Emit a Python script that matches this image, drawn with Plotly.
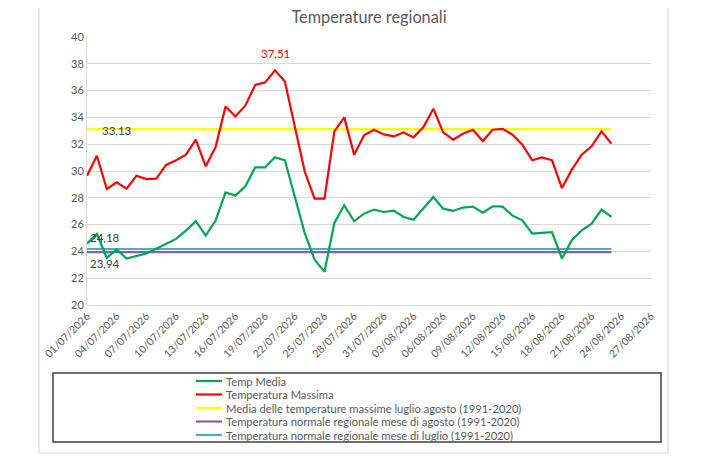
import pandas as pd
import plotly.graph_objects as go

# colors
green = '#00A550'
red = '#FF0000'
yellow = '#FFFF00'
purple = '#8064A2'
teal = '#4BACC6'
grey_text = '#595959'
grid_grey = '#D9D9D9'

# data: one value per day, 01/07/2026 -> 23/08/2026
dates = pd.date_range('2026-07-01', periods=54, freq='D')

temp_media = [24.58, 25.30, 23.52, 24.14, 23.47, 23.64, 23.84, 24.19, 24.58, 24.93,
              25.55, 26.25, 25.18, 26.30, 28.41, 28.16, 28.86, 30.27, 30.27, 31.02,
              30.80, 28.10, 25.38, 23.39, 22.47, 26.12, 27.44, 26.25, 26.82, 27.12,
              26.94, 27.04, 26.57, 26.37, 27.24, 28.06, 27.19, 27.02, 27.27, 27.34,
              26.89, 27.37, 27.34, 26.67, 26.32, 25.33, 25.38, 25.43, 23.47, 24.83,
              25.58, 26.07, 27.12, 26.57]

temp_massima = [29.65, 31.14, 28.66, 29.15, 28.68, 29.65, 29.40, 29.43, 30.45, 30.80,
                31.22, 32.34, 30.35, 31.79, 34.82, 34.07, 34.87, 36.43, 36.61, 37.51,
                36.68, 33.28, 29.98, 27.94, 27.94, 32.96, 34.00, 31.22, 32.66, 33.08,
                32.73, 32.58, 32.88, 32.51, 33.28, 34.65, 32.88, 32.34, 32.78, 33.08,
                32.24, 33.08, 33.15, 32.71, 31.96, 30.80, 31.02, 30.80, 28.73, 30.10,
                31.22, 31.84, 32.96, 32.04]

media_max_storica = 33.13
normale_agosto = 23.94
normale_luglio = 24.18

series_names = ['Temp Media',
                'Temperatura Massima',
                'Media delle temperature massime luglio agosto (1991-2020)',
                'Temperatura normale regionale mese di agosto (1991-2020)',
                'Temperatura normale regionale mese di luglio (1991-2020)']
series_colors = [green, red, yellow, purple, teal]

n = len(dates)
series_values = [temp_media,
                 temp_massima,
                 [media_max_storica] * n,
                 [normale_agosto] * n,
                 [normale_luglio] * n]

fig = go.Figure()

# reference lines first so the measured data sits on top
for i in [2, 3, 4, 0, 1]:
    fig.add_trace(go.Scatter(
        x=dates,
        y=series_values[i],
        name=series_names[i],
        mode='lines',
        line={'color': series_colors[i], 'width': 2.2},
        showlegend=False,
    ))

# data labels
label_font = {'family': 'Lato', 'size': 11.5, 'color': '#404040'}
max_idx = temp_massima.index(max(temp_massima))
annotations = [
    dict(x=dates[max_idx], y=temp_massima[max_idx], text=f'{temp_massima[max_idx]:.2f}'.replace('.', ','),
         showarrow=False, yshift=17, font={**label_font, 'color': red}),
    dict(x=dates[3], y=media_max_storica, text=f'{media_max_storica:.2f}'.replace('.', ','),
         showarrow=False, xshift=0, yshift=-1, font=label_font),
    dict(x=dates[2], y=normale_luglio, text=f'{normale_luglio:.2f}'.replace('.', ','),
         showarrow=False, xshift=-2, yshift=11, font=label_font),
    dict(x=dates[2], y=normale_agosto, text=f'{normale_agosto:.2f}'.replace('.', ','),
         showarrow=False, xshift=-2, yshift=-11, font=label_font),
]

# the page puts the figure 8px in from the window corner
OFF = 8
W, H = 722, 457
# plot area in window pixels
L, R, T, B = 87, 651, 37, 305
def px(xp):
    return (xp - L) / (R - L)
def py(yp):
    return (B - yp) / (B - T)

shapes = [
    # outer chart border
    dict(type='rect', xref='paper', yref='paper', x0=px(39), x1=px(668), y0=py(453), y1=py(-10),
         line={'color': grid_grey, 'width': 1.2}, layer='below'),
    # legend box
    dict(type='rect', xref='paper', yref='paper', x0=px(53), x1=px(661), y0=py(442), y1=py(373),
         line={'color': '#404040', 'width': 1.5}),
]

# legend drawn by hand to keep the tight Excel row spacing
row_y = [381, 394.5, 408, 421.5, 435]
for name, color, yy in zip(series_names, series_colors, row_y):
    shapes.append(dict(type='line', xref='paper', yref='paper', x0=px(196), x1=px(222),
                       y0=py(yy), y1=py(yy), line={'color': color, 'width': 2.2}))
    annotations.append(dict(xref='paper', yref='paper', x=px(224), y=py(yy), text=name,
                            showarrow=False, xanchor='left', yanchor='middle',
                            font={'family': 'Lato', 'size': 11.2, 'color': grey_text}))

fig.update_layout(
    width=W, height=H,
    margin={'l': L - OFF, 'r': W - R + OFF, 't': T - OFF, 'b': H - B + OFF},
    paper_bgcolor='white', plot_bgcolor='white',
    title={'text': 'Temperature regionali', 'x': 0.5, 'xanchor': 'center',
           'y': 1 - (17 - OFF) / H, 'yanchor': 'middle',
           'font': {'family': 'Lato', 'size': 16.3, 'color': grey_text}},
    font={'family': 'Lato', 'color': grey_text},
    xaxis={'range': ['2026-07-01', '2026-08-27'],
           'tickmode': 'linear', 'tick0': '2026-07-01', 'dtick': 3 * 86400000,
           'tickformat': '%d/%m/%Y', 'tickangle': -45,
           'tickfont': {'family': 'Lato', 'size': 10.5, 'color': grey_text},
           'showgrid': False, 'showline': True, 'linecolor': grid_grey, 'linewidth': 1,
           'ticks': '', 'zeroline': False},
    yaxis={'range': [20, 40], 'dtick': 2, 'tick0': 20,
           'tickfont': {'family': 'Lato', 'size': 11, 'color': grey_text},
           'showgrid': True, 'gridcolor': grid_grey, 'gridwidth': 1,
           'showline': True, 'linecolor': grid_grey, 'ticks': '', 'ticklen': 0,
           'zeroline': False},
    annotations=annotations,
    shapes=shapes,
    showlegend=False,
)

fig.write_html('out.html')
